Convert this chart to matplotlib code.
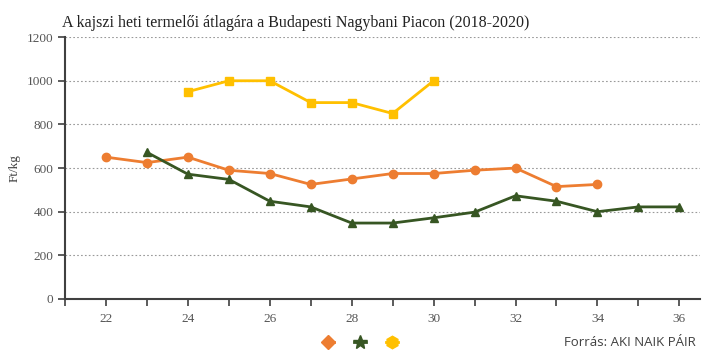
import matplotlib.pyplot as plt
from matplotlib.lines import Line2D

# weekly producer prices (Ft/kg)
weeks_a = list(range(22, 35))
price_a = [650, 625, 650, 590, 575, 525, 550, 575, 575, 590, 600, 515, 525]

weeks_b = list(range(23, 37))
price_b = [672, 572, 548, 448, 422, 348, 348, 372, 398, 473, 448, 400, 422, 422]

weeks_c = list(range(24, 31))
price_c = [950, 1000, 1000, 900, 900, 850, 1000]

c_orange = "#ED7D31"
c_green = "#375623"
c_yellow = "#FFC000"

serif = "Liberation Serif"

fig = plt.figure(figsize=(7.2, 3.64), dpi=100)
ax = fig.add_axes([0.0903, 0.1786, 0.8817, 0.7194])

ax.plot(weeks_a, price_a, color=c_orange, lw=2, marker="o", ms=6)
ax.plot(weeks_b, price_b, color=c_green, lw=2, marker="^", ms=6)
ax.plot(weeks_c, price_c, color=c_yellow, lw=2, marker="s", ms=6)

ax.set_xlim(21.5, 36.5)
ax.set_ylim(0, 1200)
ax.set_xticks(range(22, 37, 2))
ax.set_xticks(range(21, 37), minor=True)
ax.set_yticks(range(0, 1201, 200))

ax.yaxis.grid(True, linestyle=(0, (1.5, 2)), color="#999999", lw=0.8)
ax.set_axisbelow(True)

for s in ["top", "right"]:
    ax.spines[s].set_visible(False)
for s in ["left", "bottom"]:
    ax.spines[s].set_color("#404040")
    ax.spines[s].set_linewidth(1.5)

ax.tick_params(axis="both", which="both", direction="out", length=5,
               width=1.2, color="#404040", labelcolor="#555555", labelsize=9.5)
ax.tick_params(axis="x", pad=5)
for lbl in ax.get_xticklabels() + ax.get_yticklabels():
    lbl.set_fontfamily(serif)

ax.set_ylabel("Ft/kg", fontfamily=serif, fontsize=9.5, color="#404040", labelpad=4)

fig.text(0.086, 0.915, "A kajszi heti termelői átlagára a Budapesti Nagybani Piacon (2018-2020)",
         fontfamily=serif, fontsize=11.5, color="#222222", ha="left", va="bottom")

handles = [
    Line2D([], [], color=c_orange, lw=2, marker="D", ms=7),
    Line2D([], [], color=c_green, lw=2, marker="*", ms=10),
    Line2D([], [], color=c_yellow, lw=2, marker="h", ms=9),
]
fig.legend(handles, ["", "", ""], loc="center", bbox_to_anchor=(0.5, 0.058),
           ncol=3, frameon=False, handlelength=0.8, columnspacing=1.5,
           handletextpad=0.0)

fig.text(0.966, 0.058, "Forrás: AKI NAIK PÁIR", fontfamily="Open Sans",
         fontsize=9.5, color="#404040", ha="right", va="center")

fig.savefig("out.png", dpi=100, facecolor="white")
